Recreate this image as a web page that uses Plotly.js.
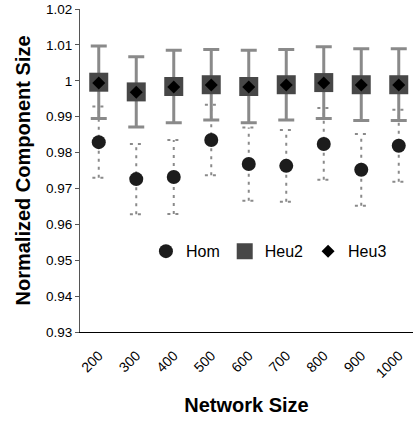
<!DOCTYPE html>
<html><head><meta charset="utf-8">
<script src="https://cdn.plot.ly/plotly-3.0.1.min.js"></script>
<style>html,body{margin:0;padding:0;background:#fff}#chart{width:413px;height:421px}</style>
</head><body><div id="chart"></div>
<script>
var categories = ['200','300','400','500','600','700','800','900','1000'];
var homValues  = [0.9829,0.9726,0.9732,0.9835,0.9768,0.9763,0.9824,0.9752,0.9819];
var homErr     = [0.0099,0.0098,0.0103,0.0098,0.0102,0.0100,0.0100,0.0100,0.0100];
var heu2Values = [0.9996,0.9969,0.9984,0.9989,0.9984,0.9989,0.9995,0.9989,0.9989];
var heu2Err    = [0.0101,0.0098,0.0101,0.0098,0.0101,0.0098,0.0100,0.0100,0.0100];
var heu3Values = [0.9994,0.9968,0.9983,0.9988,0.9983,0.9988,0.9994,0.9988,0.9988];

var idx = categories.map(function(c,i){return i;});
var capHalf = 0.17;
var ex = [], ey = [];
idx.forEach(function(i){
  var lo = homValues[i]-homErr[i], hi = homValues[i]+homErr[i];
  ex.push(i,i,null, i-capHalf,i+capHalf,null, i-capHalf,i+capHalf,null);
  ey.push(lo,hi,null, hi,hi,null, lo,lo,null);
});
var boundaries = categories.map(function(c,i){return i-0.5;}).concat([categories.length-0.5]);

var traces = [
  {x:ex, y:ey, mode:'lines', line:{color:'#8a8a8a', width:2, dash:'3px,5px'}, showlegend:false, hoverinfo:'skip'},
  {x:idx, y:homValues, name:'Hom', mode:'markers', marker:{symbol:'circle', size:14, color:'#1c1c1c'}},
  {x:idx, y:heu2Values, name:'Heu2', mode:'markers', marker:{symbol:'square', size:19, color:'#474747'},
   error_y:{type:'data', array:heu2Err, visible:true, color:'#8a8a8a', thickness:3, width:8}},
  {x:idx, y:heu3Values, name:'Heu3', mode:'markers', marker:{symbol:'diamond', size:10, color:'#000000'}}
];

var xr = [-0.5, -0.5 + 333/37.5];
var layout = {
  width:413, height:421,
  margin:{l:80, r:0, t:9, b:89},
  paper_bgcolor:'#fff', plot_bgcolor:'#fff',
  font:{family:'"Liberation Sans", Arial, sans-serif', color:'#000'},
  showlegend:true,
  legend:{orientation:'h', x:0.198, y:0.25, xanchor:'left', yanchor:'middle', font:{size:16}, bgcolor:'rgba(0,0,0,0)', itemwidth:30},
  xaxis:{range:xr, tickvals:idx, ticktext:categories, ticks:'outside', ticklen:9, tickcolor:'rgba(0,0,0,0)', tickangle:-45, tickfont:{size:14},
         showgrid:false, zeroline:false, showline:true, linecolor:'#000', linewidth:1, automargin:true,
         title:{text:'Network Size', font:{size:20, weight:'bold'}, standoff:18}},
  xaxis2:{range:xr, overlaying:'x', anchor:'y', side:'bottom', tickvals:boundaries, showticklabels:false,
          ticks:'outside', ticklen:5, tickcolor:'#000', showgrid:false, zeroline:false, showline:false},
  yaxis:{range:[0.93,1.02], dtick:0.01, tick0:0.93, ticks:'outside', ticklen:4, tickcolor:'#555', tickfont:{size:13.5},
         showgrid:false, zeroline:false, showline:true, linecolor:'#555', linewidth:1,
         title:{text:'Normalized Component Size', font:{size:20, weight:'bold'}}}
};
Plotly.newPlot('chart', traces, layout, {displayModeBar:false, staticPlot:true});
</script></body></html>
